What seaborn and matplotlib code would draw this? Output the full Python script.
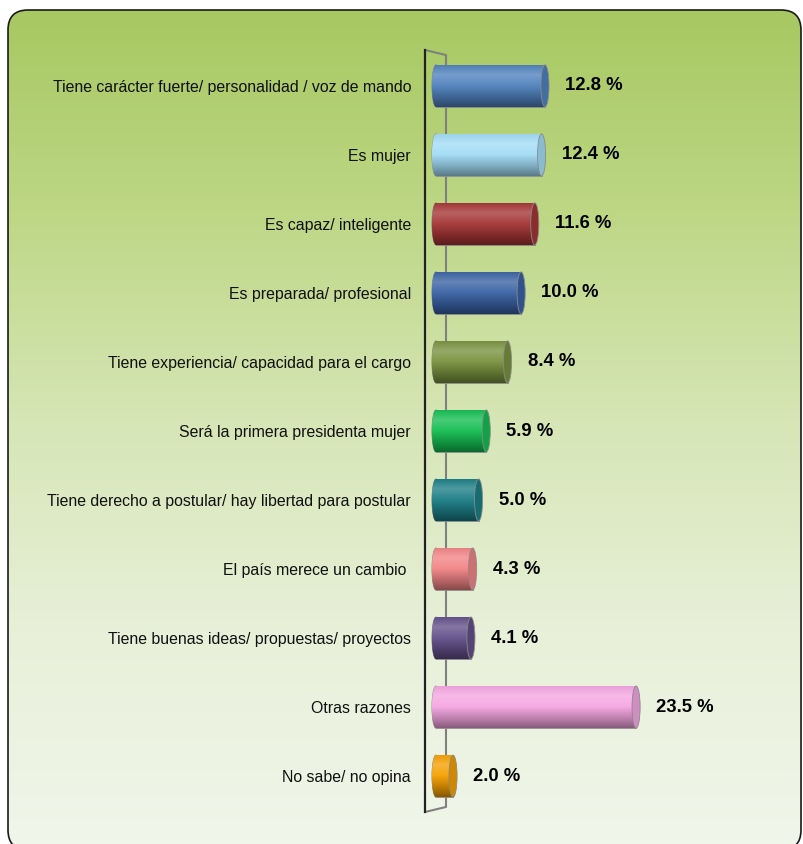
import numpy as np
import pandas as pd
import matplotlib
matplotlib.use("Agg")
import matplotlib.pyplot as plt
import seaborn as sns
from matplotlib.patches import FancyBboxPatch, Ellipse
from matplotlib.colors import LinearSegmentedColormap, to_rgb
from matplotlib.transforms import IdentityTransform

categories = [
    "Tiene carácter fuerte/ personalidad / voz de mando",
    "Es mujer",
    "Es capaz/ inteligente",
    "Es preparada/ profesional",
    "Tiene experiencia/ capacidad para el cargo",
    "Será la primera presidenta mujer",
    "Tiene derecho a postular/ hay libertad para postular",
    "El país merece un cambio ",
    "Tiene buenas ideas/ propuestas/ proyectos",
    "Otras razones",
    "No sabe/ no opina",
]
values = [12.8, 12.4, 11.6, 10.0, 8.4, 5.9, 5.0, 4.3, 4.1, 23.5, 2.0]
value_labels = ["12.8 %", "12.4 %", "11.6 %", "10.0 %", "8.4 %", "5.9 %",
                "5.0 %", "4.3 %", "4.1 %", "23.5 %", "2.0 %"]
bar_colors = ["#4f81bd", "#a2dcf6", "#a53535", "#3a62a4", "#78923e", "#14be52",
              "#1b7e86", "#f28486", "#63508a", "#f5a6e2", "#f5a000"]

sns.set_theme(style="white")
plt.rcParams['font.family'] = ['Liberation Sans', 'DejaVu Sans']

W, H = 804, 844
fig = plt.figure(figsize=(W / 100, H / 100), dpi=100)
fig.patch.set_facecolor("white")

# background panel with vertical gradient
bg = fig.add_axes([0, 0, 1, 1], zorder=0)
bg.set_axis_off()
grad = np.linspace(0, 1, 256)[:, None]
bg_cmap = LinearSegmentedColormap.from_list(
    "bg", ["#a6c760", "#bdd785", "#d6e6b6", "#e8f0d9", "#f0f6ea"])
panel = FancyBboxPatch((8, -6), 793, 840, boxstyle="round,pad=0,rounding_size=20",
                       transform=IdentityTransform(), facecolor="none",
                       edgecolor="none")
fig.patches.append(panel)
im = bg.imshow(grad, cmap=bg_cmap, aspect="auto", extent=[0, 1, 0, 1],
               origin="upper", transform=bg.transAxes)
im.set_clip_path(panel)
border = FancyBboxPatch((8, -6), 793, 840, boxstyle="round,pad=0,rounding_size=20",
                        transform=IdentityTransform(), facecolor="none",
                        edgecolor="#1a1a1a", linewidth=1.2, zorder=1)
fig.patches.append(border)

# main axes
x0_pix, x1_pix = 425, 780
y_top, y_bot = 50, 812
ax = fig.add_axes([x0_pix / W, (H - y_bot) / H, (x1_pix - x0_pix) / W,
                   (y_bot - y_top) / H], zorder=2)
ax.patch.set_alpha(0)

df = pd.DataFrame({"cat": categories, "val": values})
bar_w = 0.61
sns.barplot(data=df, x="val", y="cat", hue="cat", palette=bar_colors,
            legend=False, orient="h", width=bar_w, saturation=1, ax=ax,
            edgecolor="#8a8a8a", linewidth=0.6, zorder=3)

xmin, xmax = -1.29, 40.4
cap_w = 0.95


def shade(c, f):
    r = np.array(to_rgb(c))
    if f >= 0:
        return tuple(r + (1 - r) * f)
    return tuple(r * (1 + f))


for p in list(ax.patches):
    x = p.get_x()
    w = p.get_width()
    y = p.get_y()
    h = p.get_height()
    yc = y + h / 2
    idx = int(round(yc))
    col = bar_colors[idx]
    cmap = LinearSegmentedColormap.from_list(
        "c%d" % idx,
        [(0.0, shade(col, -0.05)), (0.25, shade(col, 0.22)), (0.5, shade(col, 0.05)),
         (0.8, shade(col, -0.25)), (1.0, shade(col, -0.45))])
    # left rounded end
    le = Ellipse((x, yc), cap_w, h, facecolor=col, edgecolor="#8a8a8a",
                 linewidth=0.6, zorder=2.9)
    ax.add_patch(le)
    for clip in (p, le):
        gi = ax.imshow(grad, cmap=cmap, aspect="auto",
                       extent=[x - cap_w, x + w, y + h, y], origin="upper",
                       zorder=3.1, interpolation="bilinear")
        gi.set_clip_path(clip)
    # right cap
    rc = Ellipse((x + w, yc), cap_w, h, facecolor=shade(col, -0.15),
                 edgecolor="#8a8a8a", linewidth=0.6, zorder=3.5)
    ax.add_patch(rc)
    ax.annotate(value_labels[idx], (x + w + cap_w / 2, yc), xytext=(11.5, 0),
                textcoords="offset points", ha="left", va="center",
                fontsize=13.3, fontweight="bold", color="black", zorder=4)

ax.set_xlim(xmin, xmax)
ax.set_ylim(len(categories) - 0.48, -0.52)

# 3D back wall lines
wx = (446 - 425) / (x1_pix - x0_pix)
ax.plot([0, wx, wx, 0], [1, 0.9934, 0.0066, 0], transform=ax.transAxes,
        color="#808080", linewidth=1.5, clip_on=False, zorder=1)

for s in ["top", "right", "bottom"]:
    ax.spines[s].set_visible(False)
ax.spines["left"].set_color("#222222")
ax.spines["left"].set_linewidth(1.6)
ax.set_xticks([])
ax.set_xlabel("")
ax.set_ylabel("")
ax.tick_params(axis="y", length=0, pad=10, labelsize=11.45, labelcolor="#111111")

fig.savefig("out.png", dpi=100)
